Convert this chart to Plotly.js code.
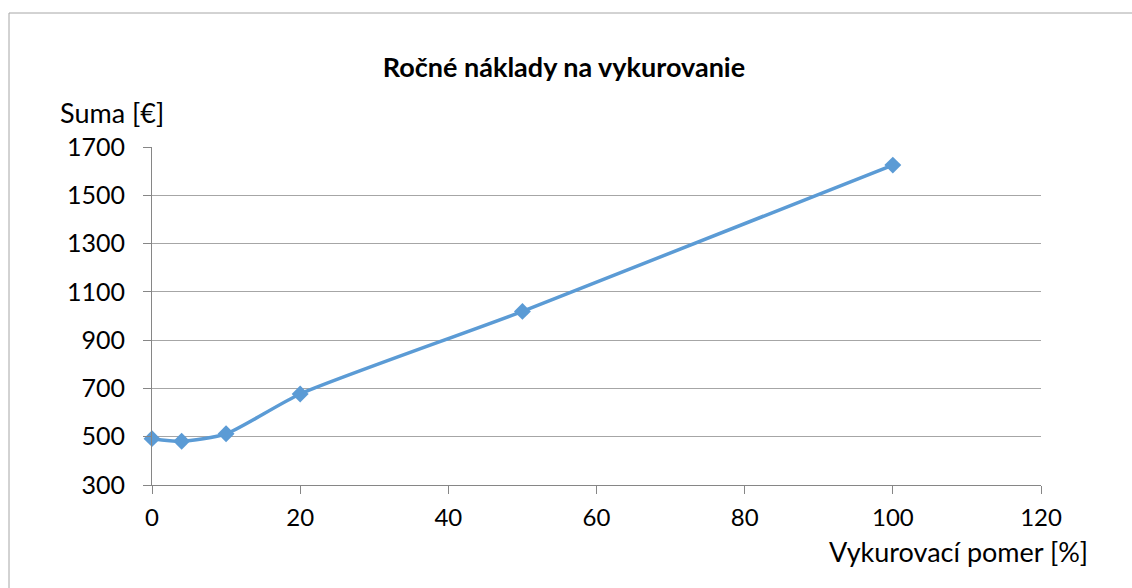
<!DOCTYPE html>
<html>
<head>
<meta charset="utf-8">
<script src="https://cdn.plot.ly/plotly-3.0.1.min.js"></script>
<style>html,body{margin:0;padding:0;background:#fff;}#chart{width:1132px;height:588px;}</style>
</head>
<body>
<div id="chart"></div>
<script>
const ratio = [0, 4, 10, 20, 50, 100];
const cost = [492, 481, 512, 677, 1019, 1625];
const xTicks = [0, 20, 40, 60, 80, 100, 120];
const yTicks = [300, 500, 700, 900, 1100, 1300, 1500, 1700];
const titleText = 'Ročné náklady na vykurovanie';
const xTitle = 'Vykurovací pomer [%]';
const yTitle = 'Suma [€]';

const font = 'Lato, "Open Sans", sans-serif';
const trace = {
  x: ratio, y: cost, type: 'scatter', mode: 'lines+markers',
  line: {color: '#5B9BD5', width: 3.5, shape: 'spline', smoothing: 0.6},
  marker: {symbol: 'diamond', size: 13, color: '#5B9BD5'},
  cliponaxis: false, hoverinfo: 'x+y'
};
const layout = {
  width: 1132, height: 588,
  margin: {l: 152, r: 91, t: 147, b: 103},
  paper_bgcolor: '#fff', plot_bgcolor: '#fff',
  showlegend: false,
  font: {family: font, size: 24, color: '#000'},
  title: {text: '<b>' + titleText + '</b>', x: 564/1132, xanchor: 'center', y: 1 - 68/588, yanchor: 'middle', font: {family: font, size: 27, color: '#000'}},
  xaxis: {range: [0, 120], tickvals: xTicks, ticktext: xTicks.map(String), showgrid: false, zeroline: false,
    showline: true, linecolor: '#868686', linewidth: 1, ticks: 'outside', ticklen: 8, tickcolor: '#868686',
    ticklabelstandoff: 3, tickfont: {family: font, size: 24}, fixedrange: true},
  yaxis: {range: [300, 1700], tickvals: yTicks, ticktext: yTicks.map(String), showgrid: true, gridcolor: '#A6A6A6', gridwidth: 1,
    zeroline: false, showline: true, linecolor: '#868686', linewidth: 1, ticks: 'outside', ticklen: 8, tickcolor: '#868686',
    ticklabelstandoff: 13, tickfont: {family: font, size: 25}, fixedrange: true},
  annotations: [
    {text: yTitle, xref: 'paper', yref: 'paper', x: (58-152)/889, y: (485-113)/338, xanchor: 'left', yanchor: 'middle', showarrow: false, font: {family: font, size: 27}},
    {text: xTitle, xref: 'paper', yref: 'paper', x: (1090-152)/889, y: (485-551)/338, xanchor: 'right', yanchor: 'middle', showarrow: false, font: {family: font, size: 27}}
  ],
  shapes: [
    {type: 'rect', xref: 'paper', yref: 'paper', x0: (9-152)/889, x1: (1140-152)/889, y0: (485-600)/338, y1: (485-13)/338,
     line: {color: '#A6A6A6', width: 1}, fillcolor: 'rgba(0,0,0,0)', layer: 'below'}
  ]
};
Plotly.newPlot('chart', [trace], layout, {displayModeBar: false, staticPlot: true});
</script>
</body>
</html>
